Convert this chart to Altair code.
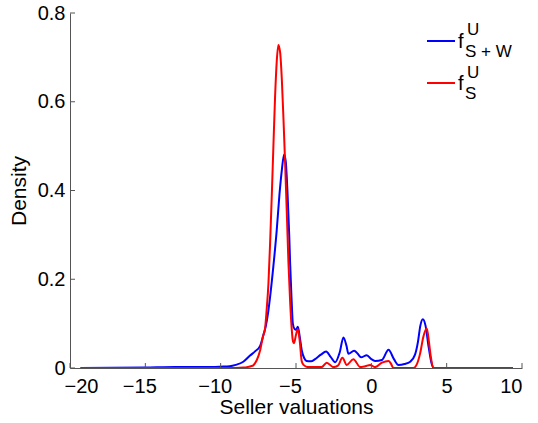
import altair as alt
import pandas as pd

# Blue: f^U_{S+W}
blue_x = [-19.3, -15, -13, -11, -10, -9.4, -9, -8.5, -8.05, -7.7, -7.38, -7.16, -7.0, -6.83,
          -6.72, -6.5, -6.28, -6.1, -5.94, -5.79, -5.68, -5.57, -5.45, -5.39, -5.3, -5.21,
          -5.1, -5.0, -4.88, -4.75, -4.62, -4.45, -4.3, -4.0, -3.73, -3.35, -3.0, -2.7, -2.4,
          -2.1, -1.85, -1.65, -1.52, -1.14, -0.9, -0.68, -0.3, 0.0, 0.25, 0.7, 1.14, 1.5, 1.8,
          2.2, 2.58, 2.9, 3.1, 3.25, 3.42, 3.6, 3.8, 4.0, 4.13, 5, 7, 9.4]
blue_y = [0.0, 0.001, 0.002, 0.002, 0.003, 0.004, 0.007, 0.014, 0.028, 0.038, 0.05, 0.075, 0.095, 0.13,
          0.16, 0.23, 0.31, 0.39, 0.446, 0.481, 0.465, 0.40, 0.30, 0.236, 0.16, 0.10,
          0.088, 0.086, 0.093, 0.07, 0.04, 0.022, 0.016, 0.015, 0.02, 0.03, 0.037, 0.025, 0.013,
          0.035, 0.069, 0.05, 0.032, 0.039, 0.032, 0.024, 0.029, 0.02, 0.016, 0.018, 0.041, 0.02, 0.007,
          0.009, 0.014, 0.03, 0.06, 0.095, 0.11, 0.095, 0.048, 0.01, 0.0, 0.0, 0.0, 0.0]

# Red: f^U_S
red_x = [-19.3, -12, -9, -8.5, -8.27, -8.0, -7.83, -7.72, -7.6, -7.38, -7.2, -7.05, -6.95, -6.83,
         -6.72, -6.61, -6.5, -6.39, -6.28, -6.17, -6.05, -5.94, -5.83, -5.72, -5.6, -5.5, -5.39,
         -5.28, -5.2, -5.13, -5.0, -4.88, -4.75, -4.62, -4.5, -4.2, -3.3, -2.96, -2.52, -2.2, -1.92,
         -1.63, -1.19, -0.74, -0.4, -0.08, 0.25, 0.7, 1.14, 1.3, 1.47, 2.79, 3.0, 3.24, 3.45, 3.68,
         3.82, 3.95, 4.13, 9.4]
red_y = [0.0, 0.0, 0.0, 0.001, 0.002, 0.004, 0.006, 0.011, 0.018, 0.04, 0.07, 0.09, 0.13, 0.19,
         0.28, 0.386, 0.50, 0.61, 0.69, 0.728, 0.71, 0.65, 0.56, 0.46, 0.34, 0.236, 0.15,
         0.086, 0.06, 0.056, 0.075, 0.088, 0.06, 0.015, 0.007, 0.002, 0.002, 0.012, 0.002, 0.006, 0.023,
         0.007, 0.02, 0.002, 0.004, 0.007, 0.002, 0.012, 0.016, 0.01, 0.0, 0.0, 0.007, 0.033, 0.07, 0.089,
         0.06, 0.025, 0.0, 0.0]

x_ticks = [-20, -15, -10, -5, 0, 5, 10]
y_ticks = [0, 0.2, 0.4, 0.6, 0.8]
series_names = ["S+W", "S"]
series_colors = ["#0000FF", "#FF0000"]

df = pd.concat([
    pd.DataFrame({"x": blue_x, "y": blue_y, "s": series_names[0]}),
    pd.DataFrame({"x": red_x, "y": red_y, "s": series_names[1]}),
])

W, H = 452, 355
font = "Liberation Sans"

xs = alt.Scale(domain=[-20, 10], nice=False, zero=False)
ys = alt.Scale(domain=[0, 0.8], nice=False)

axis_style = dict(ticks=False, grid=False, labelFont=font, titleFont=font, labelFontSize=20,
                  titleFontSize=21, labelColor="black", titleColor="black", domainColor="#555",
                  titleFontWeight="normal")

lines = alt.Chart(df).mark_line(strokeWidth=2, interpolate="monotone", clip=True).encode(
    x=alt.X("x:Q", scale=xs, axis=alt.Axis(
        values=x_ticks, title="Seller valuations", labelPadding=8, titlePadding=0,
        labelOffset={"condition": {"test": "datum.value < 0", "value": -6}, "value": 0},
        **axis_style)),
    y=alt.Y("y:Q", scale=ys, axis=alt.Axis(values=y_ticks, title="Density", format="~g",
                                           labelPadding=5, titlePadding=8, **axis_style)),
    color=alt.Color("s:N", scale=alt.Scale(domain=series_names, range=series_colors), legend=None),
    detail="s:N",
)

xt = alt.Chart(pd.DataFrame({"x": x_ticks})).mark_rule(color="#555", strokeWidth=1).encode(
    x=alt.X("x:Q", scale=xs), y=alt.value(H - 5), y2=alt.value(H))
yt = alt.Chart(pd.DataFrame({"y": y_ticks})).mark_rule(color="#555", strokeWidth=1).encode(
    y=alt.Y("y:Q", scale=ys), x=alt.value(0), x2=alt.value(5))

# custom legend
leg_df = pd.DataFrame({"s": series_names, "ly": [28, 70]})
leg_lines = alt.Chart(leg_df).mark_rule(strokeWidth=2).encode(
    x=alt.value(357), x2=alt.value(385), y=alt.Y("ly:Q", scale=None),
    color=alt.Color("s:N", scale=alt.Scale(domain=series_names, range=series_colors), legend=None),
)

leg_text = pd.DataFrame({
    "t": ["f", "U", "S + W", "f", "U", "S"],
    "tx": [388, 397, 395, 388, 397, 395],
    "ty": [35, 22, 44, 77, 65, 86],
    "fs": [20, 17, 17, 20, 17, 17],
})
leg_txt = alt.Chart(leg_text).mark_text(align="left", baseline="alphabetic", font=font,
                                        color="black").encode(
    x=alt.X("tx:Q", scale=None), y=alt.Y("ty:Q", scale=None), text="t:N",
    size=alt.Size("fs:Q", scale=None, legend=None))

chart = alt.layer(lines, xt, yt, leg_lines, leg_txt).properties(
    width=W, height=H,
    padding={"left": 70, "top": 13, "right": 16, "bottom": 55},
    autosize=alt.AutoSizeParams(type="none"),
    background="white",
).configure_view(stroke=None)

chart.save("out.html", embed_options={"renderer": "svg", "actions": False})
